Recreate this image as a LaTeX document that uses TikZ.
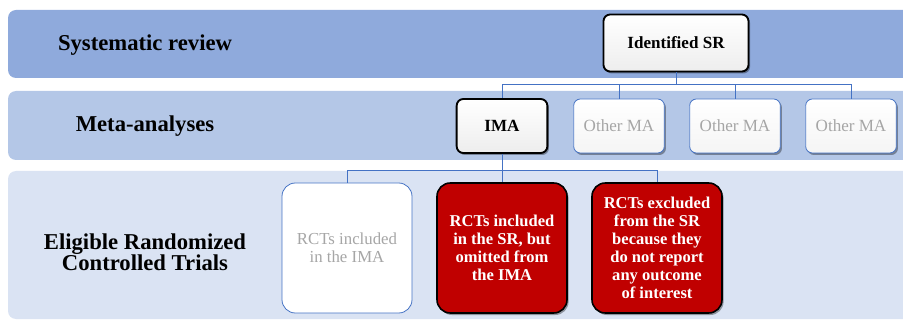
\documentclass[tikz,border=0pt]{standalone}
\usepackage{fontspec}
\setmainfont{Liberation Serif}[BoldFont={Liberation Serif Bold}]
\usetikzlibrary{shadows}

\definecolor{bandtop}{RGB}{143,170,220}
\definecolor{bandmid}{RGB}{180,199,231}
\definecolor{bandlow}{RGB}{218,227,243}
\definecolor{linkblue}{RGB}{68,114,196}
\definecolor{darkred}{RGB}{192,0,0}
\definecolor{fadedtext}{RGB}{166,166,166}

\begin{document}
\begin{tikzpicture}[x=0.75pt,y=0.75pt,yscale=-1,xscale=1,
  band/.style={fill=#1,draw=none,rounded corners=6pt},
  levellabel/.style={font=\rmfamily\bfseries\fontsize{17}{16}\selectfont,align=center},
  boxshadow/.style={drop shadow={shadow xshift=1.2pt,shadow yshift=-1.5pt,opacity=0.35,fill=black}},
  keybox/.style={boxshadow,draw=black,line width=1.4pt,rounded corners=5pt,top color=white,bottom color=gray!14,inner sep=0pt,font=\rmfamily\bfseries\fontsize{12.8}{14}\selectfont},
  otherbox/.style={boxshadow,draw=linkblue,line width=0.6pt,rounded corners=5pt,top color=white,bottom color=gray!8,inner sep=0pt,text=fadedtext,font=\rmfamily\fontsize{12.8}{14}\selectfont,minimum width=68pt,minimum height=40.5pt},
  rctbox/.style={rounded corners=10pt,minimum width=97.5pt,minimum height=97.5pt,inner sep=0pt,align=center},
  omitbox/.style={rctbox,boxshadow,draw=black,line width=1.2pt,fill=darkred,text=white,font=\rmfamily\bfseries\fontsize{12.4}{13.5}\selectfont},
  link/.style={draw=linkblue,line width=0.6pt}
]
\clip (0,0) rectangle (903,324);

% background bands
\path [band=bandtop] (8,10) rectangle (930,78);
\path [band=bandmid] (8,91) rectangle (930,160);
\path [band=bandlow] (8,171) rectangle (930,319);

% level labels
\node (lvsr) [levellabel] at (145,45) {Systematic review};
\node (lvma) [levellabel] at (145,126) {Meta-analyses};
\node (lvrct) [levellabel] at (145,252) {Eligible Randomized\\Controlled Trials};

% systematic review
\node (sr) [keybox,minimum width=108.75pt,minimum height=42.75pt] at (676,43) {Identified SR};

% meta-analyses
\node (ima) [keybox,minimum width=68pt,minimum height=40.5pt] at (502,126) {IMA};
\node (oma1) [otherbox] at (619,126) {Other MA};
\node (oma2) [otherbox] at (735,126) {Other MA};
\node (oma3) [otherbox] at (851,126) {Other MA};

% trials
\node (rctin) [rctbox,draw=linkblue,line width=0.6pt,fill=white,text=fadedtext,font=\rmfamily\fontsize{12.6}{13.5}\selectfont] at (347,248) {RCTs included\\in the IMA};
\node (rctomit) [omitbox] at (502,248) {RCTs included\\in the SR, but\\omitted from\\the IMA};
\node (rctexcl) [omitbox] at (657,248) {RCTs excluded\\from the SR\\because they\\do not report\\any outcome\\of interest};

% connectors
\coordinate (srbus) at (676,84);
\coordinate (imabus) at (502,170);
\draw [link] (sr.south) -- (srbus);
\foreach \m in {ima,oma1,oma2,oma3}
  \draw [link] (srbus) -| (\m.north);
\draw [link] (ima.south) -- (imabus);
\foreach \r in {rctin,rctomit,rctexcl}
  \draw [link] (imabus) -| (\r.north);

\end{tikzpicture}
\end{document}
